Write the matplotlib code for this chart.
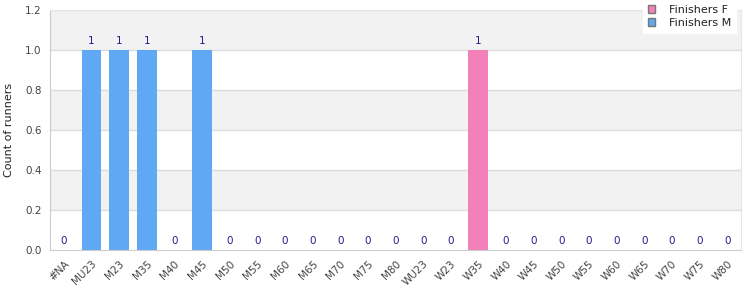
import numpy as np
import matplotlib
matplotlib.use("Agg")
import matplotlib.pyplot as plt
from matplotlib.patches import Patch

categories = ["#NA", "MU23", "M23", "M35", "M40", "M45", "M50", "M55", "M60",
              "M65", "M70", "M75", "M80", "WU23", "W23", "W35", "W40", "W45",
              "W50", "W55", "W60", "W65", "W70", "W75", "W80"]
finishers_f = [0, 0, 0, 0, 0, 0, 0, 0, 0, 0, 0, 0, 0, 0, 0, 1, 0, 0, 0, 0, 0, 0, 0, 0, 0]
finishers_m = [0, 1, 1, 1, 0, 1, 0, 0, 0, 0, 0, 0, 0, 0, 0, 0, 0, 0, 0, 0, 0, 0, 0, 0, 0]

col_f = "#f381b9"
col_m = "#5fa8f3"

fig = plt.figure(figsize=(7.5, 3), dpi=100)
ax = fig.add_axes([50 / 750, 50 / 300, 691 / 750, 240 / 300])

x = np.arange(len(categories))
f = np.array(finishers_f)
m = np.array(finishers_m)

ax.set_ylim(0, 1.2)
ax.set_xlim(-0.5, len(categories) - 0.5)

# alternating background bands
ticks = np.arange(0, 1.21, 0.2)
for i in range(len(ticks) - 1):
    if i % 2 == 1:
        ax.axhspan(ticks[i], ticks[i + 1], color="#f2f2f2", zorder=0, lw=0)
for t in ticks[1:]:
    ax.axhline(t, color="#dddddd", lw=1, zorder=1)

ax.bar(x, m, width=0.72, color=col_m, zorder=2)
ax.bar(x, f, width=0.72, bottom=m, color=col_f, zorder=2)

total = f + m
for xi, t in zip(x, total):
    ax.text(xi, t + 0.02, str(int(t)), ha="center", va="bottom",
            fontsize=7.5, color="#1f1f8f", zorder=3)

ax.set_yticks(ticks)
ax.set_yticklabels(["%.1f" % t for t in ticks])
ax.set_xticks(x)
ax.set_xticklabels(categories, rotation=45, ha="right", rotation_mode="anchor")
ax.tick_params(axis="both", length=0, labelsize=7.5, colors="#444444", pad=6)
ax.set_ylabel("Count of runners", fontsize=8, color="#222222", labelpad=8)

for s in ["top", "right"]:
    ax.spines[s].set_color("#e6e6e6")
for s in ["left", "bottom"]:
    ax.spines[s].set_color("#cccccc")

handles = [Patch(facecolor=col_f, edgecolor="#777777", label="Finishers F"),
           Patch(facecolor=col_m, edgecolor="#777777", label="Finishers M")]
leg = fig.legend(handles=handles, loc="upper right", bbox_to_anchor=(736 / 750, 1.0),
                 borderaxespad=0, fontsize=8, frameon=True, fancybox=False,
                 edgecolor="white", framealpha=1, handlelength=0.7,
                 handleheight=0.7, handletextpad=1.2, labelspacing=0.25,
                 borderpad=0.45)
for t in leg.get_texts():
    t.set_color("#222222")

fig.savefig("out.png", dpi=100)
